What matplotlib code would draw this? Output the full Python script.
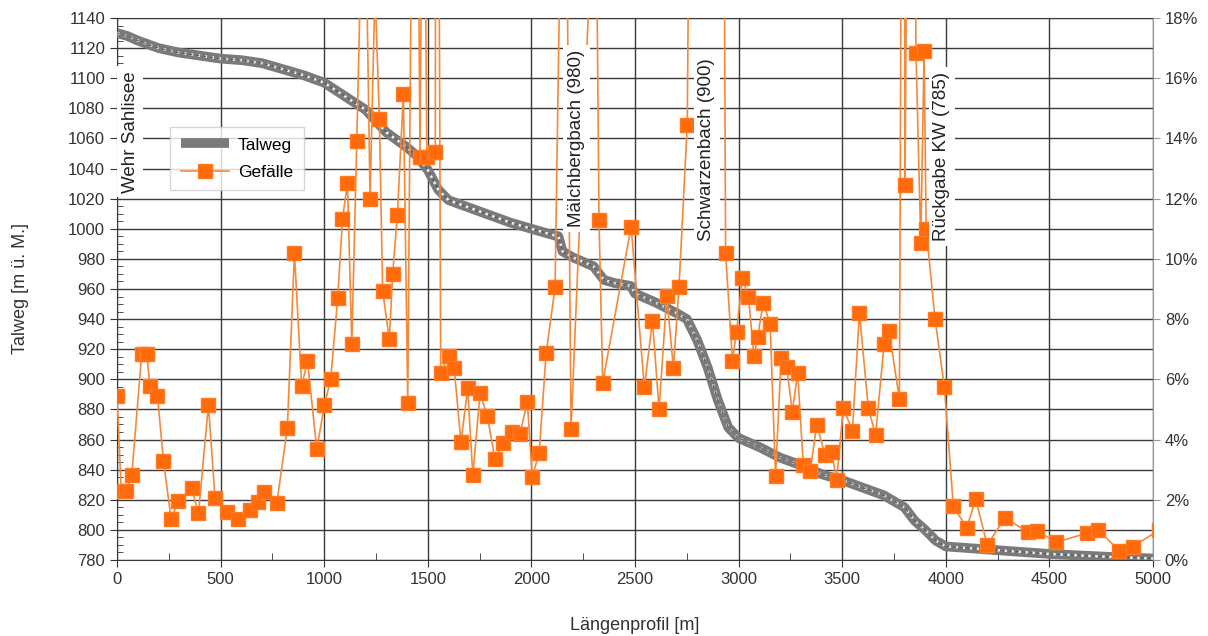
import matplotlib
matplotlib.use("Agg")
import matplotlib.pyplot as plt
from matplotlib.ticker import MultipleLocator, FuncFormatter

plt.rcParams["font.family"] = ["Liberation Sans", "DejaVu Sans"]

# Talweg (Längenprofil in m, Höhe in m ü. M.)
talweg_x = [0, 50, 100, 200, 300, 400, 500, 600, 700, 800, 900, 1000, 1100, 1200,
            1300, 1400, 1450, 1500, 1550, 1600, 1700, 1800, 1900, 2000, 2100, 2130,
            2150, 2200, 2300, 2350, 2400, 2480, 2500, 2600, 2700, 2750, 2800, 2850,
            2900, 2950, 3000, 3100, 3200, 3300, 3400, 3500, 3600, 3700, 3800, 3850,
            3900, 3950, 4000, 4100, 4200, 4500, 4800, 5000]
talweg_z = [1130, 1128, 1125, 1120, 1117, 1115, 1113, 1112, 1110, 1106, 1102, 1097, 1088, 1079,
            1064, 1054, 1048, 1039, 1026, 1019, 1014, 1009, 1004, 1000, 996, 995,
            985, 981, 975, 966, 964, 962, 957, 951, 944, 940, 926, 908,
            886, 868, 861, 855, 848, 843, 837, 833, 828, 823, 815, 806,
            800, 793, 789, 788, 787, 784, 782, 781]

# Gefälle in % (einige Werte liegen über dem Achsenbereich)
gefaelle_x = [0, 20, 45, 71, 119, 143, 159, 195, 224, 261, 296, 360, 393, 441, 473, 529,
              586, 642, 682, 711, 771, 822, 856, 891, 919, 964, 1001, 1031, 1065, 1088,
              1112, 1133, 1157, 1193, 1221, 1245, 1266, 1282, 1314, 1330, 1353, 1382,
              1403, 1438, 1462, 1479, 1495, 1536, 1541, 1562, 1600, 1627, 1660, 1692,
              1717, 1752, 1787, 1824, 1864, 1905, 1945, 1980, 2004, 2037, 2071, 2114,
              2160, 2191, 2310, 2326, 2344, 2481, 2545, 2584, 2616, 2653, 2685, 2712,
              2752, 2770, 2925, 2937, 2970, 2990, 3018, 3047, 3074, 3092, 3119, 3152,
              3178, 3205, 3232, 3259, 3285, 3312, 3345, 3377, 3417, 3449, 3473, 3505,
              3549, 3583, 3626, 3661, 3702, 3726, 3776, 3795, 3803, 3830, 3856, 3879,
              3895, 3905, 3948, 3993, 4036, 4101, 4144, 4200, 4286, 4395, 4439, 4532,
              4680, 4736, 4837, 4902, 5030]
gefaelle_p = [5.45, 2.3, 2.3, 2.82, 6.84, 6.84, 5.78, 5.45, 3.3, 1.35, 1.97, 2.38, 1.55, 5.15, 2.05, 1.58,
              1.35, 1.66, 1.94, 2.25, 1.88, 4.4, 10.2, 5.78, 6.61, 3.68, 5.15, 6.0, 8.69, 11.33,
              12.51, 7.17, 13.92, 24.6, 12.0, 19.0, 14.64, 8.94, 7.33, 9.5, 11.46, 15.47,
              5.23, 36.0, 13.4, 29.0, 13.4, 13.55, 45.0, 6.22, 6.78, 6.37, 3.91, 5.7,
              2.82, 5.54, 4.78, 3.36, 3.87, 4.26, 4.18, 5.26, 2.77, 3.54, 6.87, 9.05,
              30.0, 4.34, 24.0, 11.3, 5.89, 11.07, 5.73, 7.95, 5.0, 8.77, 6.37, 9.05,
              14.45, 30.0, 30.0, 10.2, 6.62, 7.58, 9.36, 8.75, 6.76, 7.42, 8.55, 7.84,
              2.79, 6.7, 6.4, 4.93, 6.2, 3.16, 2.96, 4.49, 3.49, 3.58, 2.66, 5.06,
              4.29, 8.2, 5.04, 4.15, 7.17, 7.6, 5.34, 40.0, 12.44, 40.0, 16.83, 10.54,
              16.9, 11.0, 8.0, 5.74, 1.79, 1.07, 2.02, 0.5, 1.41, 0.92, 0.97, 0.59,
              0.89, 1.0, 0.3, 0.44, 1.0]

# Einmündungen / Bauwerke entlang des Profils (Position, Unterkante der Beschriftung)
marker_names = ["Wehr Sahlisee", "Mälchbergbach (980)", "Schwarzenbach (900)", "Rückgabe KW (785)"]
marker_x = [63, 2218, 2846, 3980]
marker_base = [1024, 1001, 992, 992]

fig = plt.figure(figsize=(12.08, 6.36), dpi=100)
ax = fig.add_axes([0.0969, 0.1195, 0.8576, 0.8522])
ax2 = ax.twinx()

grid_col = "#3a3a3a"
ax.set_xlim(0, 5000)
ax.set_ylim(780, 1140)
ax2.set_ylim(0, 18)

ax.xaxis.set_major_locator(MultipleLocator(500))
ax.xaxis.set_minor_locator(MultipleLocator(250))
ax.yaxis.set_major_locator(MultipleLocator(20))
ax.yaxis.set_minor_locator(MultipleLocator(5))
ax2.yaxis.set_major_locator(MultipleLocator(2))
ax2.yaxis.set_major_formatter(FuncFormatter(lambda v, _: f"{v:.0f}%"))

ax.grid(True, which="major", color=grid_col, lw=1.0)
ax.set_axisbelow(True)
ax.tick_params(axis="both", which="major", labelsize=12, colors="#333333", length=5)
ax.tick_params(axis="y", which="minor", direction="in", length=4, color="#333333")
ax.tick_params(axis="x", which="minor", direction="in", length=5, color="#333333")
ax2.tick_params(axis="y", labelsize=12, colors="#333333", length=5, color="#999999")

for side in ("left", "bottom", "top"):
    ax.spines[side].set_color(grid_col)
ax.spines["right"].set_visible(False)
for side in ("left", "bottom", "top"):
    ax2.spines[side].set_visible(False)
ax2.spines["right"].set_color("#999999")

# Talweg als breites, gesprenkeltes Band
talweg_line, = ax.plot(talweg_x, talweg_z, color="#7a7a7a", lw=7,
                       solid_capstyle="butt", label="Talweg", zorder=3)
ax.plot(talweg_x, talweg_z, color="#f2f2f2", lw=1.8, ls=(0, (1, 1.8)), zorder=4)
ax.plot(talweg_x, talweg_z, color="#5e5e5e", lw=1.0, ls=(0.5, (2, 3)), zorder=4)

gef_line, = ax2.plot(gefaelle_x, gefaelle_p, color="#f5893a", lw=1.2,
                     marker="s", markersize=9.5, markerfacecolor="#ff6a0a",
                     markeredgecolor="#ff7a20", label="Gefälle", zorder=3)

for name, mx, mb in zip(marker_names, marker_x, marker_base):
    ax2.text(mx, mb, name, transform=ax.transData, rotation=90,
             ha="center", va="bottom", fontsize=13.5, color="#222222", zorder=6,
             bbox=dict(boxstyle="square,pad=0.25", fc="white", ec="none"))

ax.set_xlabel("Längenprofil [m]", fontsize=13, color="#333333", labelpad=22)
ax.set_ylabel("Talweg [m ü. M.]", fontsize=13, color="#333333", labelpad=28)

leg = ax2.legend(handles=[talweg_line, gef_line], loc="upper left",
                 bbox_to_anchor=(0.043, 0.815), fontsize=12.5, frameon=True,
                 fancybox=False, edgecolor="#cccccc", handlelength=2.8,
                 borderpad=0.6, labelspacing=0.7, handletextpad=0.5)
leg.get_frame().set_linewidth(1.0)
leg.set_zorder(7)

fig.savefig("out.png", dpi=100)
